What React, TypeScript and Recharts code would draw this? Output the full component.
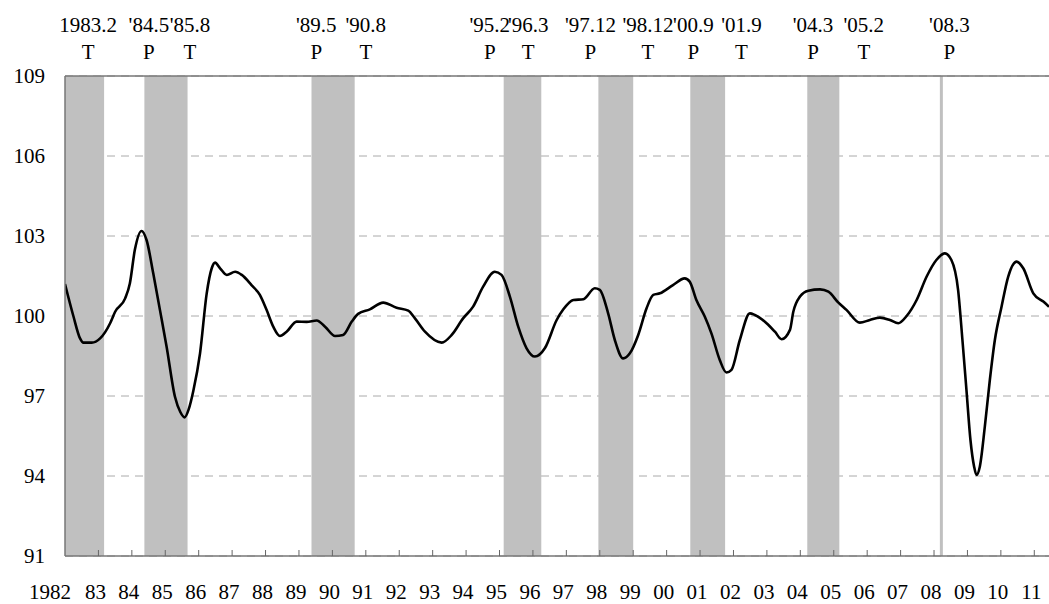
import React from 'react';
import {
  LineChart,
  Line,
  XAxis,
  YAxis,
  CartesianGrid,
  ReferenceArea,
  ReferenceLine,
} from 'recharts';

// time (year + fraction) and index value
const times = [
  1982.0, 1982.25, 1982.45, 1982.55, 1982.8, 1983.05, 1983.35, 1983.5, 1983.8, 1983.94,
  1984.09, 1984.29, 1984.44, 1984.64, 1984.84, 1985.04, 1985.29, 1985.45, 1985.58, 1985.7,
  1985.84, 1986.04, 1986.24, 1986.39, 1986.49, 1986.64, 1986.84, 1987.09, 1987.29, 1987.58,
  1987.83, 1988.03, 1988.23, 1988.43, 1988.63, 1988.93, 1989.23, 1989.53, 1989.78, 1990.08,
  1990.32, 1990.58, 1990.77, 1991.12, 1991.52, 1991.92, 1992.27, 1992.47, 1992.77, 1993.27,
  1993.57, 1993.91, 1994.21, 1994.51, 1994.86, 1995.06, 1995.31, 1995.56, 1995.81, 1996.06,
  1996.36, 1996.71, 1996.91, 1997.21, 1997.51, 1997.85, 1998.0, 1998.25, 1998.45, 1998.7,
  1998.9, 1999.15, 1999.4, 1999.6, 1999.8, 2000.19, 2000.54, 2000.69, 2000.89, 2001.14,
  2001.34, 2001.59, 2001.79, 2001.94, 2002.19, 2002.49, 2002.64, 2002.99, 2003.24, 2003.44,
  2003.69, 2003.79, 2003.99, 2004.24, 2004.59, 2004.84, 2005.14, 2005.38, 2005.78, 2006.08,
  2006.38, 2006.68, 2006.93, 2007.18, 2007.48, 2007.78, 2008.07, 2008.32, 2008.52, 2008.72,
  2008.85, 2008.97, 2009.09, 2009.2, 2009.27, 2009.37, 2009.52, 2009.67, 2009.82, 2010.02,
  2010.22, 2010.47, 2010.67, 2010.97, 2011.27, 2011.44,
];
const values = [
  101.2, 100.0, 99.16, 99.0, 99.0, 99.16, 99.73, 100.16, 100.66, 101.22,
  102.48, 103.19, 102.85, 101.6, 100.23, 98.85, 96.97, 96.4, 96.2, 96.5,
  97.2, 98.6, 100.85, 101.79, 102.0, 101.79, 101.54, 101.66, 101.54, 101.16,
  100.79, 100.23, 99.6, 99.25, 99.41, 99.79, 99.78, 99.83, 99.6, 99.25,
  99.29, 99.79, 100.08, 100.25, 100.5, 100.31, 100.2, 99.91, 99.41, 99.0,
  99.29, 99.91, 100.35, 101.1, 101.66, 101.54, 100.73, 99.6, 98.79, 98.48,
  98.8, 99.85, 100.25, 100.6, 100.63, 101.04, 100.98, 100.1, 99.1, 98.41,
  98.6, 99.29, 100.29, 100.79, 100.85, 101.16, 101.41, 101.29, 100.6, 99.98,
  99.35, 98.35, 97.88, 97.98, 99.1, 100.1, 100.04, 99.73, 99.41, 99.13,
  99.48, 100.16, 100.73, 100.95, 101.0, 100.91, 100.5, 100.23, 99.75, 99.85,
  99.94, 99.85, 99.73, 100.0, 100.6, 101.48, 102.1, 102.35, 102.1, 100.98,
  99.1, 97.23, 95.35, 94.35, 94.04, 94.35, 95.85, 97.6, 99.1, 100.35,
  101.48, 102.04, 101.79, 100.85, 100.54, 100.35,
];

// shaded downturns (peak -> trough)
const bandStarts = [1982.0, 1984.375, 1989.375, 1995.125, 1997.958, 2000.708, 2004.208];
const bandEnds = [1983.17, 1985.667, 1990.667, 1996.25, 1999.0, 2001.75, 2005.167];
const lastPeak = 2008.22;

// turning-point labels along the top
const turnLabels = [
  '1983.2', "'84.5", "'85.8", "'89.5", "'90.8", "'95.2", "'96.3",
  "'97.12", "'98.12", "'00.9", "'01.9", "'04.3", "'05.2", "'08.3",
];
const turnKinds = ['T', 'P', 'T', 'P', 'T', 'P', 'T', 'P', 'T', 'P', 'T', 'P', 'T', 'P'];
const turnPos = [
  1982.69, 1984.51, 1985.74, 1989.52, 1991.0, 1994.71, 1995.86,
  1997.72, 1999.44, 2000.8, 2002.24, 2004.38, 2005.9, 2008.46,
];

const yTicks = [91, 94, 97, 100, 103, 106, 109];
const xTicks = Array.from({ length: 30 }, (_, i) => 1982 + i);

const textStyle = { fontFamily: "'Liberation Serif', serif", fontSize: 21 };

const data = times.map((t, i) => ({ t, v: values[i] }));

function TurnLabel(props: any) {
  const { viewBox, text, kind } = props;
  if (!viewBox) return null;
  const x = viewBox.x;
  const top = viewBox.y;
  return (
    <g>
      <text x={x} y={top - 44} textAnchor="middle" fill="#000" style={textStyle}>
        {text}
      </text>
      <text x={x} y={top - 17} textAnchor="middle" fill="#000" style={textStyle}>
        {kind}
      </text>
    </g>
  );
}

function YearTick(props: any) {
  const { x, y, payload } = props;
  const yr: number = payload.value;
  const label = yr === 1982 ? '1982' : String(yr % 100).padStart(2, '0');
  return (
    <g>
      {yr !== 1982 && <line x1={x} x2={x} y1={y} y2={y - 6} stroke="#666" strokeWidth={1} />}
      <text
        x={yr === 1982 ? x - 15 : x - 3}
        y={y + 43}
        textAnchor="middle"
        fill="#000"
        style={textStyle}
      >
        {label}
      </text>
    </g>
  );
}

function ValueTick(props: any) {
  const { x, y, payload } = props;
  return (
    <text x={x} y={y} dy={7} textAnchor="end" fill="#000" style={textStyle}>
      {payload.value}
    </text>
  );
}

export default function App() {
  return (
    <div style={{ position: 'absolute', left: 0, top: 0, background: '#fff' }}>
      <LineChart
        width={1049}
        height={604}
        data={data}
        margin={{ top: 76, right: 0, bottom: 0, left: 0 }}
        style={{ overflow: 'visible' }}
      >
        <CartesianGrid
          horizontal
          vertical={false}
          stroke="#aaa"
          strokeDasharray="8 6"
        />
        {bandStarts.map((s, i) => (
          <ReferenceArea
            key={`band-${i}`}
            x1={s}
            x2={bandEnds[i]}
            y1={91}
            y2={109}
            fill="#c0c0c0"
            fillOpacity={1}
            stroke="none"
          />
        ))}
        <ReferenceLine x={lastPeak} stroke="#c0c0c0" strokeWidth={3} />
        <ReferenceLine y={109} stroke="#777" strokeWidth={1.5} />
        {turnPos.map((p, i) => (
          <ReferenceLine
            key={`lab-${i}`}
            x={p}
            stroke="none"
            label={<TurnLabel text={turnLabels[i]} kind={turnKinds[i]} />}
          />
        ))}
        <XAxis
          dataKey="t"
          type="number"
          domain={[1982, 2011.44]}
          ticks={xTicks}
          interval={0}
          allowDataOverflow
          height={48}
          tickSize={0}
          tickMargin={0}
          tickLine={false}
          axisLine={{ stroke: '#777', strokeWidth: 1.5 }}
          tick={<YearTick />}
        />
        <YAxis
          type="number"
          domain={[91, 109]}
          ticks={yTicks}
          interval={0}
          width={65}
          tickSize={0}
          tickMargin={20}
          tickLine={false}
          axisLine={{ stroke: '#777', strokeWidth: 1.5 }}
          tick={<ValueTick />}
        />
        <Line
          type="monotone"
          dataKey="v"
          stroke="#000"
          strokeWidth={2.6}
          dot={false}
          isAnimationActive={false}
        />
      </LineChart>
    </div>
  );
}
